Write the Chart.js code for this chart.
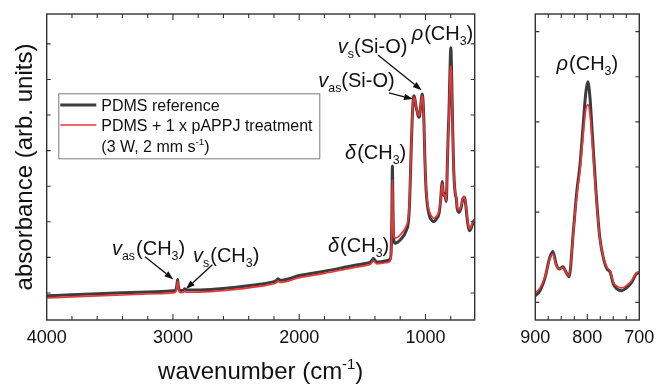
<!DOCTYPE html>
<html><head><meta charset="utf-8">
<script src="https://cdn.jsdelivr.net/npm/chart.js@4"></script>
<style>html,body{margin:0;padding:0;background:#fff;}#wrap{position:relative;width:656px;height:385px;}canvas{position:absolute;top:0;}</style>
</head><body>
<div id="wrap"><canvas id="main" width="500" height="385" style="left:0"></canvas><canvas id="inset" width="156" height="385" style="left:500px"></canvas></div>
<script>
// ---- data (wavenumber in cm^-1, absorbance in arb. units) ----
const wavenumber = [4000,3800,3500,3200,3000,2985,2975,2968,2963,2958,2950,2940,2915,2906,2897,2850,2700,2500,2300,2200,
  2180,2168,2155,2140,2000,1800,1600,1480,1440,1425,1412,1400,1385,1350,1300,1280,1272,1266,1262,1258,
  1254,1250,1245,1240,1200,1150,1135,1125,1115,1105,1095,1090,1085,1075,1065,1058,1052,1045,1038,1030,
  1025,1020,1012,1005,998,990,980,965,950,935,920,910,900,891,881,872,866,860,854,847,
  841,835,827,820,814,808,803,799,795,790,783,776,768,762,756,750,743,734,724,715,
  706,700,695,688,680,670,660,650,640,630,620,610];
const pdmsReference = [-0.008,-0.005,-0.001,0.003,0.006,0.007,0.011,0.025,0.038,0.022,0.009,0.007,0.008,0.012,0.008,0.008,0.010,0.016,0.025,0.032,
  0.035,0.040,0.036,0.036,0.049,0.061,0.075,0.083,0.086,0.091,0.097,0.092,0.087,0.088,0.091,0.095,0.115,0.220,0.357,0.260,
  0.170,0.148,0.141,0.140,0.149,0.177,0.200,0.260,0.380,0.490,0.548,0.554,0.548,0.525,0.508,0.498,0.494,0.500,0.525,0.552,
  0.559,0.545,0.480,0.380,0.310,0.265,0.235,0.213,0.204,0.200,0.205,0.210,0.215,0.226,0.256,0.300,0.313,0.285,0.274,0.279,
  0.267,0.257,0.355,0.448,0.505,0.592,0.663,0.689,0.656,0.567,0.441,0.344,0.293,0.274,0.267,0.241,0.230,0.226,0.233,0.244,
  0.263,0.266,0.270,0.265,0.245,0.210,0.185,0.175,0.180,0.190,0.200,0.205];
const pdmsTreated = [-0.014,-0.011,-0.007,-0.003,0.000,0.001,0.006,0.020,0.033,0.017,0.003,0.001,0.002,0.006,0.002,0.002,0.004,0.010,0.019,0.026,
  0.029,0.034,0.030,0.030,0.043,0.055,0.069,0.077,0.080,0.085,0.091,0.086,0.082,0.083,0.086,0.090,0.110,0.200,0.318,0.250,
  0.178,0.160,0.155,0.154,0.163,0.190,0.212,0.270,0.385,0.490,0.545,0.550,0.545,0.525,0.510,0.502,0.498,0.503,0.525,0.548,
  0.555,0.540,0.475,0.380,0.315,0.272,0.245,0.225,0.215,0.210,0.213,0.217,0.222,0.232,0.258,0.296,0.307,0.283,0.274,0.277,
  0.267,0.259,0.352,0.438,0.493,0.570,0.626,0.638,0.618,0.545,0.434,0.342,0.295,0.277,0.270,0.245,0.236,0.232,0.238,0.248,
  0.265,0.268,0.270,0.265,0.248,0.215,0.190,0.180,0.185,0.195,0.203,0.208];
const seriesNames = ['PDMS reference', 'PDMS + 1 x pAPPJ treatment'];
const mainTickLabels = [4000, 3000, 2000, 1000];
const insetTickLabels = [900, 800, 700];

// ---- styles ----
const FONT = '"Liberation Sans", Arial, sans-serif';
const REF_COLOR = '#3c3c3c', TRT_COLOR = '#f03434', AXIS_COLOR = '#333', TEXT = '#111';
Chart.defaults.font.family = FONT;
Chart.defaults.color = TEXT;

function range(a, b, s) { const r = []; for (let v = a; v <= b + 1e-9; v += s) r.push(+v.toFixed(4)); return r; }

function drawRich(ctx, x, y, parts, size, measureOnly) {
  let cx = x;
  parts.forEach(p => {
    const small = p.sub || p.sup;
    const fs = small ? size * 0.62 : size;
    ctx.font = (p.italic ? 'italic ' : '') + fs + 'px ' + FONT;
    cx += (p.dx || 0);
    const dy = p.sub ? size * 0.25 : (p.sup ? -size * 0.42 : 0);
    if (!measureOnly) ctx.fillText(p.t, cx, y + dy);
    cx += ctx.measureText(p.t).width;
  });
  return cx - x;
}

const framePlugin = {
  id: 'frame',
  afterDatasetsDraw(chart, args, o) {
    const {ctx, chartArea: a} = chart; const xs = chart.scales.x, ys = chart.scales.y;
    ctx.save();
    ctx.strokeStyle = AXIS_COLOR; ctx.lineWidth = 1.1;
    ctx.beginPath();
    xs.ticks.forEach(t => {
      const p = xs.getPixelForValue(t.value);
      if (p <= a.left + 1 || p >= a.right - 1) return;
      const L = o.major.includes(t.value) ? 6 : 4;
      ctx.moveTo(p, a.bottom); ctx.lineTo(p, a.bottom - L);
      ctx.moveTo(p, a.top); ctx.lineTo(p, a.top + L);
    });
    ys.ticks.forEach(t => {
      const p = ys.getPixelForValue(t.value);
      ctx.moveTo(a.left, p); ctx.lineTo(a.left + 4, p);
      ctx.moveTo(a.right, p); ctx.lineTo(a.right - 4, p);
    });
    ctx.stroke();
    ctx.lineWidth = 1.4;
    ctx.strokeRect(a.left, a.top, a.right - a.left, a.bottom - a.top);
    ctx.restore();
  }
};

const notesPlugin = {
  id: 'notes',
  afterDraw(chart, args, o) {
    const {ctx} = chart; const xs = chart.scales.x, ys = chart.scales.y;
    ctx.save();
    ctx.fillStyle = TEXT; ctx.strokeStyle = '#111'; ctx.textBaseline = 'alphabetic'; ctx.textAlign = 'left';
    (o.texts || []).forEach(n => drawRich(ctx, xs.getPixelForValue(n.wn), ys.getPixelForValue(n.a), n.parts, o.size));
    ctx.lineWidth = 1.3;
    (o.arrows || []).forEach(ar => {
      const x1 = xs.getPixelForValue(ar.from[0]), y1 = ys.getPixelForValue(ar.from[1]);
      const x2 = xs.getPixelForValue(ar.to[0]), y2 = ys.getPixelForValue(ar.to[1]);
      const ang = Math.atan2(y2 - y1, x2 - x1), H = 9, W = 3.2;
      const bx = x2 - H * Math.cos(ang), by = y2 - H * Math.sin(ang);
      ctx.beginPath(); ctx.moveTo(x1, y1); ctx.lineTo(bx, by); ctx.stroke();
      ctx.beginPath(); ctx.moveTo(x2, y2);
      ctx.lineTo(bx + W * Math.sin(ang), by - W * Math.cos(ang));
      ctx.lineTo(bx - W * Math.sin(ang), by + W * Math.cos(ang));
      ctx.closePath(); ctx.fill();
    });
    if (o.xTitle) {
      const a = chart.chartArea;
      const w = drawRich(ctx, 0, 0, o.xTitle, 24, true);
      drawRich(ctx, (a.left + a.right) / 2 - w / 2, 379, o.xTitle, 24);
    }
    ctx.restore();
  }
};

const legendPlugin = {
  id: 'specLegend',
  afterDraw(chart, args, o) {
    if (!o.show) return;
    const {ctx, chartArea: a} = chart;
    const x0 = a.left + 11.6, y0 = a.top + 79.3, w = 261, h = 65;
    ctx.save();
    ctx.strokeStyle = '#7a7a7a'; ctx.lineWidth = 1;
    ctx.strokeRect(x0 + 0.5, y0 + 0.5, w, h);
    const ds = chart.data.datasets;
    [[ds[0], 11.7, 17.7], [ds[1], 31.7, 37.7]].forEach(([d, ly, ty]) => {
      ctx.strokeStyle = d.borderColor; ctx.lineWidth = d.borderWidth;
      ctx.beginPath(); ctx.moveTo(x0 + 2, y0 + ly); ctx.lineTo(x0 + 38, y0 + ly); ctx.stroke();
      ctx.fillStyle = TEXT; ctx.font = '16px ' + FONT;
      ctx.fillText(d.label, x0 + 43, y0 + ty);
    });
    drawRich(ctx, x0 + 43, y0 + 58.3, [{t: '(3 W, 2 mm s'}, {t: '-1', sup: true}, {t: ')'}], 16);
    ctx.restore();
  }
};

const nu = (sub, rest) => [{t: 'v', italic: true}, {t: sub, sub: true}, ...rest];
const CH3 = [{t: '(CH', dx: 1}, {t: '3', sub: true}, {t: ')'}];

function datasets() {
  return [
    {label: seriesNames[0], data: wavenumber.map((w, i) => ({x: w, y: pdmsReference[i]})), borderColor: REF_COLOR,
     borderWidth: 3, pointRadius: 0, cubicInterpolationMode: 'monotone', clip: 0, order: 2},
    {label: seriesNames[1], data: wavenumber.map((w, i) => ({x: w, y: pdmsTreated[i]})), borderColor: TRT_COLOR,
     borderWidth: 1.7, pointRadius: 0, cubicInterpolationMode: 'monotone', clip: 0, order: 1}
  ];
}

function xScale(min, max, step, labels) {
  return {
    type: 'linear', reverse: true, min: min, max: max,
    afterBuildTicks: s => { s.ticks = range(Math.ceil(min / step) * step, max, step).map(v => ({value: v})); },
    ticks: {autoSkip: false, maxRotation: 0, padding: 7, font: {size: 18}, color: TEXT,
            callback: v => labels.includes(v) ? String(v) : ''},
    grid: {display: false, drawTicks: false}, border: {display: false},
    afterFit: s => { s.height = 65; s.paddingLeft = 0; s.paddingRight = 0; }
  };
}

new Chart(document.getElementById('main'), {
  type: 'line',
  data: {datasets: datasets()},
  options: {
    responsive: false, animation: false, events: [],
    layout: {padding: {top: 14, right: 25.3, left: 0, bottom: 0}},
    plugins: {
      legend: {display: false}, tooltip: {enabled: false},
      frame: {major: mainTickLabels},
      specLegend: {show: true},
      notes: {
        size: 20,
        texts: [
          {wn: 1109, a: 0.711, parts: [{t: 'ρ', italic: true}, ...CH3]},
          {wn: 1694, a: 0.674, parts: nu('s', [{t: '(Si-O)'}])},
          {wn: 1849, a: 0.579, parts: nu('as', [{t: '(Si-O)'}])},
          {wn: 1637, a: 0.376, parts: [{t: 'δ', italic: true}, ...CH3]},
          {wn: 1772, a: 0.115, parts: [{t: 'δ', italic: true}, ...CH3]},
          {wn: 3483, a: 0.107, parts: nu('as', CH3)},
          {wn: 2841, a: 0.088, parts: nu('s', CH3)}
        ],
        arrows: [
          {from: [1376, 0.669], to: [1030, 0.570]},
          {from: [1289, 0.562], to: [1099, 0.545]},
          {from: [3221, 0.102], to: [2997, 0.038]},
          {from: [2688, 0.079], to: [2897, 0.011]}
        ],
        xTitle: [{t: 'wavenumber (cm'}, {t: '-1', sup: true}, {t: ')'}]
      }
    },
    scales: {
      x: xScale(610, 4000, 200, mainTickLabels),
      y: {
        type: 'linear', min: -0.076, max: 0.784,
        afterBuildTicks: s => { s.ticks = range(0, 0.7, 0.1).map(v => ({value: v})); },
        ticks: {display: false}, grid: {display: false, drawTicks: false}, border: {display: false},
        title: {display: true, text: 'absorbance (arb. units)', font: {size: 24}, color: TEXT, padding: {top: 11, bottom: 0}},
        afterFit: s => { s.width = 46.7; s.paddingTop = 0; s.paddingBottom = 0; }
      }
    }
  },
  plugins: [framePlugin, notesPlugin, legendPlugin]
});

new Chart(document.getElementById('inset'), {
  type: 'line',
  data: {datasets: datasets()},
  options: {
    responsive: false, animation: false, events: [],
    layout: {padding: {top: 14, right: 16.7, left: 0, bottom: 0}},
    plugins: {
      legend: {display: false}, tooltip: {enabled: false},
      frame: {major: insetTickLabels},
      specLegend: {show: false},
      notes: {size: 20, texts: [{wn: 859, a: 0.715, parts: [{t: 'ρ', italic: true}, ...CH3]}], arrows: []}
    },
    scales: {
      x: xScale(700, 900, 25, insetTickLabels),
      y: {
        type: 'linear', min: 0.161, max: 0.839,
        afterBuildTicks: s => { s.ticks = range(0.2, 0.8, 0.1).map(v => ({value: v})); },
        ticks: {display: false}, grid: {display: false, drawTicks: false}, border: {display: false},
        title: {display: false},
        afterFit: s => { s.width = 35.3; s.paddingTop = 0; s.paddingBottom = 0; }
      }
    }
  },
  plugins: [framePlugin, notesPlugin, legendPlugin]
});
</script>
</body></html>
